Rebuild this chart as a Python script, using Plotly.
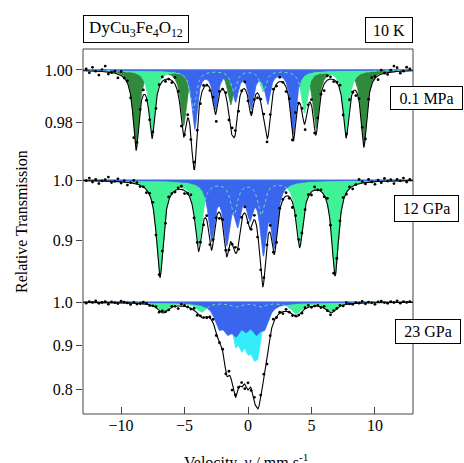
import numpy as np
import plotly.graph_objects as go

# ---- peak parameters (velocity mm/s, absorption depth) ----
# 0.1 MPa : three sextets
p1_dg_pos = [-8.82, -5.08, -1.37, 1.55, 5.35, 9.13]
p1_dg_depth = [0.029, 0.021, 0.013, 0.009, 0.022, 0.028]
p1_lg_pos = [-7.56, -4.32, -1.12, 1.20, 4.45, 7.73]
p1_lg_depth = [0.024, 0.015, 0.008, 0.008, 0.016, 0.024]
p1_bl_pos = [-4.20, -2.57, -0.98, 0.25, 1.55, 3.57]
p1_bl_depth = [0.022, 0.014, 0.011, 0.014, 0.012, 0.024]
p1_hwhm = [0.28, 0.28, 0.26]

# 12 GPa : one sextet + inner component
p2_lg_pos = [-6.94, -3.90, -1.10, 1.05, 4.07, 6.86]
p2_lg_depth = [0.160, 0.105, 0.055, 0.055, 0.105, 0.157]
p2_bl_pos = [-2.87, -1.69, -0.82, 0.15, 1.20, 2.08]
p2_bl_depth = [0.095, 0.095, 0.060, 0.050, 0.110, 0.100]
p2_hwhm = [0.33, 0.30]

# 23 GPa : weak sextet + two broad central components
p3_lg_pos = [-6.70, -3.67, -1.00, 1.00, 3.80, 6.55]
p3_lg_depth = [0.022, 0.022, 0.010, 0.010, 0.026, 0.022]
p3_bl_pos = [-2.30, -1.60, -0.93, -0.15, 0.64, 1.30]
p3_bl_depth = [0.045, 0.045, 0.050, 0.040, 0.050, 0.045]
p3_cy_pos = [-1.00, -0.50, 0.00, 0.45, 0.80]
p3_cy_depth = [0.075, 0.068, 0.066, 0.070, 0.085]
p3_ex_pos = [-1.70, -1.25, 1.05, 1.45]
p3_ex_depth = [0.060, 0.025, 0.045, 0.040]
p3_hwhm = [0.50, 0.42, 0.30, 0.28]

# scatter of the measured points around the fit (in noise units)
noise1 = [1,-1,2,0,-2,1,3,-1,0,1,-2,2,0,1,-1,-3,1,0,2,-1,
          0,1,-2,1,2,-1,0,-1,3,1,-2,0,1,-1,2,0,-2,1,0,-1,
          2,-3,1,0,1,-1,2,1,-2,0,3,-1,1,0,-2,1,2,-1,0,1,
          -1,2,0,-2,1,-1,3,0,1,-2,0,2,-1,1,0,-3,2,1,-1,0,
          2,-1,1,3,0,-2,1,2,-1,0,3,1,-2,2,0,-1,1,3,2,-1,
          0,2,1]
noise2 = [0,2,-1,1,-2,0,1,3,-1,0,2,-1,1,-2,0,2,1,-1,0,-2,
          1,2,-1,0,1,-3,2,0,-1,1,2,-2,0,3,-1,1,0,-2,2,-1,
          1,0,-3,2,1,-1,0,2,-2,1,3,0,-1,2,-2,0,1,-1,3,0,
          -2,1,0,2,-1,-3,1,2,0,-1,1,-2,2,0,1,-1,3,0,-2,1,
          0,2,-1,1,-2,0,3,1,-1,2,0,-2,1,-1,2,0,1,-2,1,0,
          2,-1,1]
noise3 = [-1,1,0,2,-1,0,1,-2,1,0,-1,2,1,0,-2,1,-1,0,2,1,
          -1,0,1,-2,2,0,-1,1,0,-3,2,1,0,-1,2,-2,1,0,-1,1,
          3,-2,0,1,-1,2,-3,1,0,2,-2,3,-1,2,-3,1,2,-2,0,3,
          -1,1,-2,2,0,-1,1,0,-2,1,2,-1,0,1,-1,2,0,-2,1,0,
          1,-1,2,0,-1,1,0,2,-1,1,0,-2,1,2,0,-1,1,0,2,-1,
          1,0,1]

labels = ["0.1 MPa", "12 GPa", "23 GPa"]

C_DG = "#2f8a3c"
C_LG = "#3ff295"
C_BL = "#3a66ee"
C_CY = "#33eefa"
C_DOT = "#6fd8c8"

v = np.linspace(-13, 13, 1301)
v_pts = np.arange(-12.75, 12.76, 0.25)


def absorb(x, pos, depth, w):
    x = np.asarray(x)[:, None]
    p = np.asarray(pos)[None, :]
    d = np.asarray(depth)[None, :]
    return (d * w * w / ((x - p) ** 2 + w * w)).sum(axis=1)


fig = go.Figure()


def add_fill(yax, a, color):
    fig.add_trace(go.Scatter(
        x=np.concatenate([v, v[::-1]]),
        y=np.concatenate([1 - a, np.ones_like(v)]),
        fill="toself", fillcolor=color, mode="lines",
        line=dict(width=0.8, color=color), yaxis=yax, hoverinfo="skip"))


def add_fit(yax, comps, hw, noise, scale, gain):
    tot = sum(absorb(v, p, d, w) for (p, d), w in zip(comps, hw))
    fig.add_trace(go.Scatter(x=v, y=1 - tot, mode="lines",
                             line=dict(color="black", width=1.1), yaxis=yax))
    tp = sum(absorb(v_pts, p, d, w) for (p, d), w in zip(comps, hw))
    yp = 1 - tp + np.asarray(noise) * scale * (1 + gain * tp)
    fig.add_trace(go.Scatter(x=v_pts, y=yp, mode="markers",
                             marker=dict(color="black", size=2.8), yaxis=yax))


# top panel
a_dg = absorb(v, p1_dg_pos, p1_dg_depth, p1_hwhm[0])
a_lg = absorb(v, p1_lg_pos, p1_lg_depth, p1_hwhm[1])
a_bl = absorb(v, p1_bl_pos, p1_bl_depth, p1_hwhm[2])
add_fill("y", a_dg, C_DG)
add_fill("y", a_lg, C_LG)
add_fill("y", a_bl, C_BL)
fig.add_trace(go.Scatter(x=v, y=1 - a_lg, mode="lines", yaxis="y",
                         line=dict(color=C_DOT, width=1, dash="dot")))
add_fit("y", [(p1_dg_pos, p1_dg_depth), (p1_lg_pos, p1_lg_depth), (p1_bl_pos, p1_bl_depth)],
        p1_hwhm, noise1, 0.0007, 40)

# middle panel
a_lg = absorb(v, p2_lg_pos, p2_lg_depth, p2_hwhm[0])
a_bl = absorb(v, p2_bl_pos, p2_bl_depth, p2_hwhm[1])
add_fill("y2", a_lg, C_LG)
add_fill("y2", a_bl, C_BL)
fig.add_trace(go.Scatter(x=v, y=1 - a_lg, mode="lines", yaxis="y2",
                         line=dict(color=C_DOT, width=1, dash="dot")))
add_fit("y2", [(p2_lg_pos, p2_lg_depth), (p2_bl_pos, p2_bl_depth)],
        p2_hwhm, noise2, 0.0022, 10)

# bottom panel
a_lg = absorb(v, p3_lg_pos, p3_lg_depth, p3_hwhm[0])
a_bl = absorb(v, p3_bl_pos, p3_bl_depth, p3_hwhm[1])
a_cy = absorb(v, p3_cy_pos, p3_cy_depth, p3_hwhm[2])
add_fill("y3", a_lg, C_LG)
add_fill("y3", a_cy, C_CY)
add_fill("y3", a_bl, C_BL)
fig.add_trace(go.Scatter(x=v, y=1 - a_lg, mode="lines", yaxis="y3",
                         line=dict(color=C_DOT, width=1, dash="dot")))
add_fit("y3", [(p3_lg_pos, p3_lg_depth), (p3_bl_pos, p3_bl_depth),
               (p3_cy_pos, p3_cy_depth), (p3_ex_pos, p3_ex_depth)],
        p3_hwhm, noise3, 0.0018, 10)

FONT = "Liberation Serif"
yax = dict(ticks="outside", ticklen=6, tickcolor="#444", showgrid=False,
           zeroline=False, showline=False, anchor="x",
           tickfont=dict(family=FONT, size=16, color="black"))


def px(x):
    return (x - 83) / 330


def py(y):
    return (414 - y) / 365


fig.update_layout(
    width=464, height=463, showlegend=False,
    plot_bgcolor="white", paper_bgcolor="white",
    margin=dict(l=83, r=51, t=49, b=49),
    xaxis=dict(range=[-13, 13], tickvals=[-10, -5, 0, 5, 10], ticks="inside",
               ticklen=7, tickcolor="#444", showgrid=False, zeroline=False,
               showline=False, anchor="y3",
               tickfont=dict(family=FONT, size=16, color="black")),
    yaxis=dict(yax, domain=[py(170), 1], range=[1 - 100.5 / 2650, 1 + 21 / 2650],
               tickvals=[0.98, 1.00], tickformat=".2f"),
    yaxis2=dict(yax, domain=[py(292), py(170)], range=[1 - 112 / 600, 1 + 10 / 600],
                tickvals=[0.9, 1.0], tickformat=".1f"),
    yaxis3=dict(yax, domain=[0, py(292)], range=[1 - 112 / 435, 1 + 10 / 435],
                tickvals=[0.8, 0.9, 1.0], tickformat=".1f"),
    shapes=[dict(type="rect", xref="paper", yref="paper", x0=0, x1=1, y0=0, y1=1,
                 line=dict(color="#444", width=1))],
)

boxes = [("DyCu<sub>3</sub>Fe<sub>4</sub>O<sub>12</sub>", 136, 29, 100, 22, 17),
         ("10 K", 389, 30, 42, 20, 16),
         (labels[0], 426.5, 98, 67, 18, 16),
         (labels[1], 426.5, 208.5, 59, 21, 16),
         (labels[2], 428, 331.5, 60, 19, 16)]
for txt, x, y, w, h, fs in boxes:
    fig.add_annotation(text=txt, x=px(x), y=py(y), xref="paper", yref="paper",
                       xanchor="center", yanchor="middle",
                       showarrow=False, width=w, height=h, borderpad=2,
                       bgcolor="white", bordercolor="black", borderwidth=1,
                       font=dict(family=FONT, size=fs, color="black"))

fig.add_annotation(text="Relative Transmission", textangle=-90, x=px(21), y=py(222),
                   xref="paper", yref="paper", showarrow=False,
                   xanchor="center", yanchor="middle",
                   font=dict(family=FONT, size=16, color="black"))
fig.add_annotation(text="Velocity, <i>v</i> / mm s<sup>-1</sup>", x=px(246), y=py(449),
                   xref="paper", yref="paper", showarrow=False,
                   xanchor="center", yanchor="top",
                   font=dict(family=FONT, size=16, color="black"))

fig.write_html("out.html", config={"displayModeBar": False},
               post_script="document.body.style.margin='0';")
